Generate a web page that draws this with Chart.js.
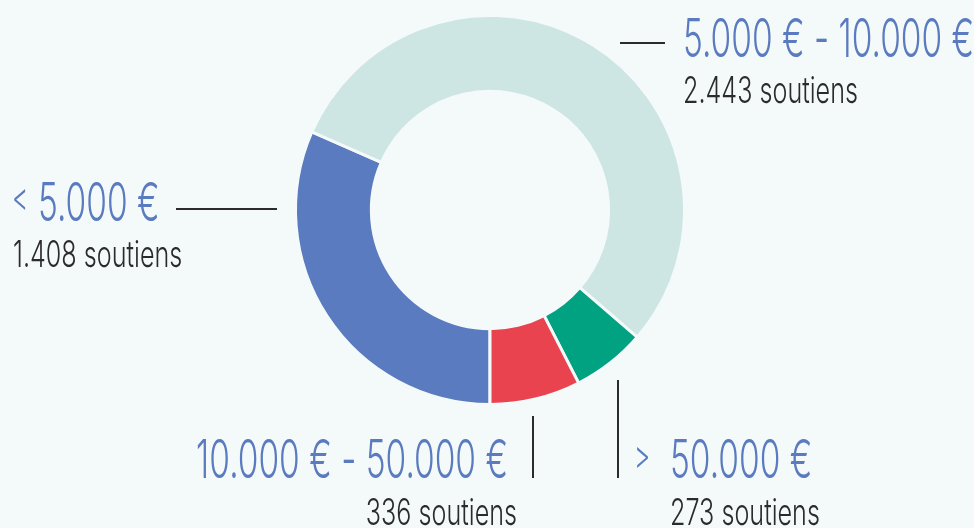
<!DOCTYPE html>
<html>
<head>
<meta charset="utf-8">
<script src="https://cdn.jsdelivr.net/npm/chart.js@4"></script>
<style>
  html, body { margin: 0; padding: 0; background: #f4f9f9; }
  #wrap { width: 974px; height: 528px; }
</style>
</head>
<body>
<div id="wrap"><canvas id="soutiensChart"></canvas></div>
<script>
// data, clockwise starting from the bottom
const categories = ['< 5.000 €', '5.000 € - 10.000 €', '> 50.000 €', '10.000 € - 50.000 €'];
const soutiens = [1408, 2443, 273, 336];
const sliceColors = ['#5a7bbf', '#cde6e3', '#00a281', '#e8434f'];

function fmt(n) {
    return String(n).replace(/\B(?=(\d{3})+(?!\d))/g, '.');
}

const BLUE = '#5a7bbf', DARK = '#2b2b2b';

// squeeze text horizontally to get a condensed look
function txt(ctx, s, x, y, size, color, sx, align) {
    ctx.save();
    ctx.translate(x, y);
    ctx.scale(sx, 1);
    ctx.font = `300 ${size}px Inter, "Open Sans", sans-serif`;
    ctx.fillStyle = color;
    ctx.textAlign = align || 'left';
    ctx.textBaseline = 'alphabetic';
    ctx.fillText(s, 0, 0);
    ctx.restore();
}

function line(ctx, x1, y1, x2, y2) {
    ctx.beginPath();
    ctx.moveTo(x1, y1);
    ctx.lineTo(x2, y2);
    ctx.stroke();
}

// label plugin, positions are offsets from the doughnut centre
const labelsPlugin = {
    id: 'sliceLabels',
    afterDraw(chart) {
        const arc = chart.getDatasetMeta(0).data[0];
        const cx = arc.x, cy = arc.y;
        const ctx = chart.ctx;
        ctx.save();
        ctx.strokeStyle = DARK;
        ctx.lineWidth = 2;
        const T = 54, C = 37, S = 40;
        const TS = 0.62, CS = 0.68;

        // < 5.000 €
        txt(ctx, '<', cx - 478, cy + 1, S, BLUE, TS);
        txt(ctx, categories[0].replace('< ', ''), cx - 452, cy + 11, T, BLUE, TS);
        line(ctx, cx - 314, cy - 1, cx - 213, cy - 1);
        txt(ctx, fmt(soutiens[0]) + ' soutiens', cx - 477, cy + 57, C, DARK, CS);

        // 5.000 € - 10.000 €
        line(ctx, cx + 130, cy - 167, cx + 175, cy - 167);
        txt(ctx, categories[1], cx + 193, cy - 153, T, BLUE, TS);
        txt(ctx, fmt(soutiens[1]) + ' soutiens', cx + 193, cy - 107, C, DARK, CS);

        // > 50.000 €
        line(ctx, cx + 128, cy + 170, cx + 128, cy + 268);
        txt(ctx, '>', cx + 144, cy + 259, S, BLUE, TS);
        txt(ctx, categories[2].replace('> ', ''), cx + 180, cy + 268, T, BLUE, TS);
        txt(ctx, fmt(soutiens[2]) + ' soutiens', cx + 180, cy + 315, C, DARK, CS);

        // 10.000 € - 50.000 €
        line(ctx, cx + 43, cy + 206, cx + 43, cy + 268);
        txt(ctx, categories[3], cx + 18, cy + 268, T, BLUE, TS, 'right');
        txt(ctx, fmt(soutiens[3]) + ' soutiens', cx + 27, cy + 315, C, DARK, CS, 'right');

        ctx.restore();
    }
};

new Chart(document.getElementById('soutiensChart'), {
    type: 'doughnut',
    data: {
        labels: categories,
        datasets: [{
            data: soutiens,
            backgroundColor: sliceColors,
            borderColor: '#f4f9f9',
            borderWidth: 3,
            hoverOffset: 0
        }]
    },
    options: {
        responsive: true,
        maintainAspectRatio: false,
        animation: false,
        rotation: 180,
        cutout: '61%',
        layout: { padding: { left: 294, right: 288, top: 14, bottom: 122 } },
        plugins: {
            legend: { display: false },
            tooltip: { enabled: false }
        }
    },
    plugins: [labelsPlugin]
});
</script>
</body>
</html>
